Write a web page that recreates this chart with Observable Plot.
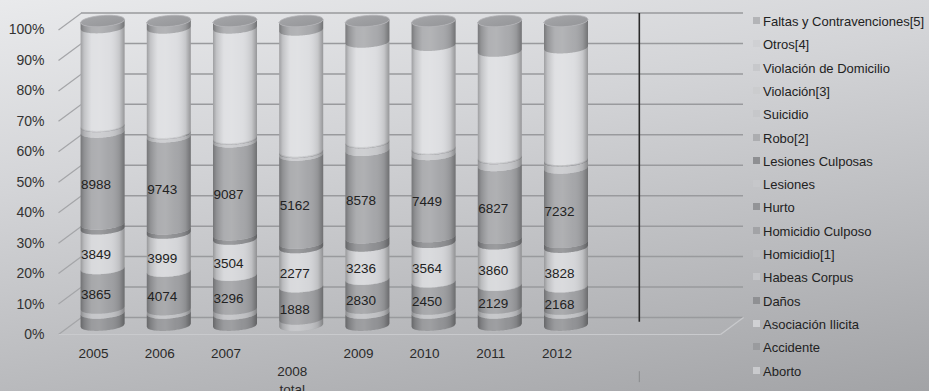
<!DOCTYPE html>
<html><head><meta charset="utf-8">
<script src="https://cdn.jsdelivr.net/npm/d3@7"></script>
<script src="https://cdn.jsdelivr.net/npm/@observablehq/plot@0.6"></script>
<style>
html,body{margin:0;padding:0;}
body{width:929px;height:391px;overflow:hidden;position:relative;
 background:linear-gradient(170deg,#e9eaec 0%,#d3d4d7 35%,#b9babd 70%,#a2a3a6 100%);
 font-family:"Liberation Sans",Arial,sans-serif;}
#chart{position:absolute;left:0;top:0;}
#legend{position:absolute;left:0;top:0;width:929px;height:391px;pointer-events:none;}
.it{position:absolute;left:763px;font-size:13px;color:#222;white-space:nowrap;line-height:16px;}
.sw{position:absolute;left:753px;width:7px;height:7px;}
</style></head>
<body><div id="chart"></div><div id="legend"></div>
<script>
// ---- data ----
const categories = ["2005","2006","2007","2008 total","2009","2010","2011","2012"];
const xLabels = ["2005","2006","2007","\n2008\ntotal","2009","2010","2011","2012"];
const seriesNames = ["Aborto","Accidente","Asociación Ilicita","Daños","Habeas Corpus","Homicidio[1]",
  "Homicidio Culposo","Hurto","Lesiones","Lesiones Culposas","Robo[2]","Suicidio","Violación[3]",
  "Violación de Domicilio","Otros[4]","Faltas y Contravenciones[5]"];
const aborto      = [30,30,30,20,30,30,30,30];
const accidente   = [1190,1290,1100,0,1190,1100,1140,1180];
const asociacion  = [480,350,480,360,480,360,460,380];
const danos       = [3865,4074,3296,1888,2830,2450,2129,2168];
const habeas      = [30,30,30,20,30,30,30,30];
const homicidio   = [3849,3999,3504,2277,3236,3564,3860,3828];
const homCulposo  = [480,450,430,260,800,520,510,470];
const hurto       = [8988,9743,9087,5162,8578,7449,6827,7232];
const lesiones    = [530,330,270,150,740,460,650,680];
const lesCulposas = [30,30,30,20,30,30,30,30];
const robo        = [30,30,30,20,30,30,30,30];
const suicidio    = [30,30,30,20,30,30,30,30];
const violacion   = [30,30,30,20,30,30,30,30];
const violDom     = [30,30,30,20,30,30,30,30];
const otros       = [9510,11020,10700,7070,9720,9280,9910,10860];
const faltas      = [650,740,680,530,2060,2200,2820,2600];
const seriesValues = [aborto,accidente,asociacion,danos,habeas,homicidio,homCulposo,hurto,lesiones,
  lesCulposas,robo,suicidio,violacion,violDom,otros,faltas];
const labeledSeries = ["Daños","Homicidio[1]","Hurto"];
const yTicks = [0,10,20,30,40,50,60,70,80,90,100];
const seriesColors = ["#b8b9bc","#8f9093","#bfc0c3","#9d9ea1","#cfd0d3","#d4d5d8","#8b8c8f","#a3a4a7",
  "#c7c8cb","#8c8d90","#a9aaad","#c3c4c7","#d2d3d6","#c0c1c4","#dcdde0","#a7a8ab"];
const legendSwatch = ["#c9cacd","#9a9b9e","#d0d1d4","#8f9093","#c4c5c8","#bdbec1","#a2a3a6","#939497",
  "#c6c7ca","#8e8f92","#acadb0","#c6c7ca","#cbccce","#c7c8cb","#cfd0d3","#b3b4b7"];

// ---- geometry (layout constants) ----
const W = 929, H = 391;
const mL = 69.5, mR = 197.5, mT = 21, mB = 65.5;
const nSlots = 10;
const pxX = (W - mL - mR) / nSlots, pxY = (H - mT - mB) / 100;
const DX = 11.5, DY = 8.5;             // half depth offset in px
const dxU = DX / pxX, dyU = DY / pxY;  // in data units
const hw = 22 / pxX, ry = 5.5 / pxY;   // cylinder half-width, ellipse radius
const tilt = 1.6 / pxY;                // slight perspective tilt (right side higher)
const N = 40;
const ts = d3.range(N + 1).map(i => -1 + 2 * i / N);
const arc = t => ry * Math.sqrt(Math.max(0, 1 - t * t));

// stacked percentages
const segs = [];
categories.forEach((c, i) => {
  const total = d3.sum(seriesValues, s => s[i]);
  let acc = 0;
  seriesValues.forEach((s, k) => {
    const lo = acc / total * 100; acc += s[i];
    const hi = acc / total * 100;
    if (s[i] > 0) segs.push({cat: c, i, series: seriesNames[k], value: s[i], lo, hi});
  });
});
const areaPts = [];
segs.forEach((d, j) => ts.forEach(t => {
  areaPts.push({id: j, series: d.series, x: d.i + 0.5 + hw * t,
    y1: d.lo - arc(t) + tilt * t, y2: d.hi - arc(t) + tilt * t});
}));
const shadePts = [], topPts = [];
categories.forEach((c, i) => ts.forEach(t => {
  shadePts.push({id: i, x: i + 0.5 + hw * t, y1: 0 - arc(t) + tilt * t, y2: 100 - arc(t) + tilt * t});
  topPts.push({id: i, x: i + 0.5 + hw * t, y1: 100 - arc(t) + tilt * t, y2: 100 + arc(t) + tilt * t});
}));
const labels = segs.filter(d => labeledSeries.includes(d.series));
const markerLine = [{x: 8.6, y1: 1.2, y2: 102.6}];

const chart = Plot.plot({
  width: W, height: H,
  marginLeft: mL, marginRight: mR, marginTop: mT, marginBottom: mB,
  x: {domain: [0, nSlots], axis: null},
  y: {domain: [0, 100], axis: null},
  color: {domain: seriesNames, range: seriesColors},
  style: {background: "transparent", fontFamily: "'Liberation Sans', Arial, sans-serif", overflow: "visible"},
  marks: [
    // back wall gridlines
    Plot.ruleY(yTicks, {y: d => d + dyU, x1: dxU, x2: nSlots + dxU, stroke: "#999a9d", strokeWidth: 1.5}),
    // side wall diagonals
    Plot.link(yTicks, {x1: -dxU, y1: d => d - dyU, x2: dxU, y2: d => d + dyU, stroke: "#a4a5a8", strokeWidth: 1.2}),
    // floor edges
    Plot.link([0], {x1: -dxU, y1: -dyU, x2: nSlots - dxU, y2: -dyU, stroke: "#c9cacd", strokeWidth: 1.2}),
    Plot.link([0], {x1: nSlots - dxU, y1: -dyU, x2: nSlots + dxU, y2: dyU, stroke: "#c9cacd", strokeWidth: 1.2}),
    // marker line
    Plot.ruleX(markerLine, {x: "x", y1: "y1", y2: "y2", stroke: "#2a2a2a", strokeWidth: 1.6}),
    // cylinders
    Plot.area(areaPts, {x1: "x", y1: "y1", y2: "y2", z: "id", fill: "series"}),
    Plot.area(shadePts, {x1: "x", y1: "y1", y2: "y2", z: "id", fill: "url(#cylShade)"}),
    Plot.area(topPts, {x1: "x", y1: "y1", y2: "y2", z: "id", fill: "url(#topShade)", stroke: "#b2b3b6", strokeWidth: 0.8}),
    // value labels
    Plot.text(labels, {x: d => d.i + 0.5, y: d => (d.lo + d.hi) / 2, text: d => String(d.value),
      dx: -7, dy: 6, fontSize: 13.5, fill: "#222"}),
    // y axis labels
    Plot.text(yTicks, {x: 0, y: d => d, text: d => d + "%", dx: -25.5, dy: DY, textAnchor: "end", fontSize: 14, fill: "#333"}),
    // x labels
    Plot.text(categories, {x: (d, i) => i + 0.5, y: 0, text: (d, i) => xLabels[i], dx: -9.5, dy: 20,
      lineAnchor: "top", lineHeight: 1.3, fontSize: 13.5, fill: "#2a2a2a"}),
    Plot.ruleX(markerLine, {x: "x", y1: -15, y2: -18.6, stroke: "#8a8b8e", strokeWidth: 1})
  ]
});
document.getElementById("chart").append(chart);
const svg = d3.select(chart.tagName.toLowerCase() === "svg" ? chart : chart.querySelector("svg"));
const defs = svg.insert("defs", ":first-child");
const g = defs.append("linearGradient").attr("id", "cylShade").attr("x1", 0).attr("x2", 1).attr("y1", 0).attr("y2", 0);
[[0,"#000",0.28],[0.08,"#000",0.12],[0.25,"#fff",0.10],[0.42,"#fff",0.14],[0.65,"#fff",0.03],[0.88,"#000",0.10],[1,"#000",0.32]]
  .forEach(([o,c,a]) => g.append("stop").attr("offset", o).attr("stop-color", c).attr("stop-opacity", a));
const g2 = defs.append("linearGradient").attr("id", "topShade").attr("x1", 0).attr("x2", 1).attr("y1", 0).attr("y2", 1);
[[0,"#a6a7aa"],[1,"#939497"]].forEach(([o,c]) => g2.append("stop").attr("offset", o).attr("stop-color", c));

// legend (top to bottom = reverse stacking order)
const leg = document.getElementById("legend");
seriesNames.slice().reverse().forEach((name, j) => {
  const k = seriesNames.length - 1 - j;
  const cy = 22 + j * 23.3;
  const sw = document.createElement("div");
  sw.className = "sw"; sw.style.top = (cy - 5) + "px"; sw.style.background = legendSwatch[k];
  const tx = document.createElement("div");
  tx.className = "it"; tx.style.top = (cy - 8) + "px"; tx.textContent = name;
  leg.append(sw, tx);
});
</script></body></html>
